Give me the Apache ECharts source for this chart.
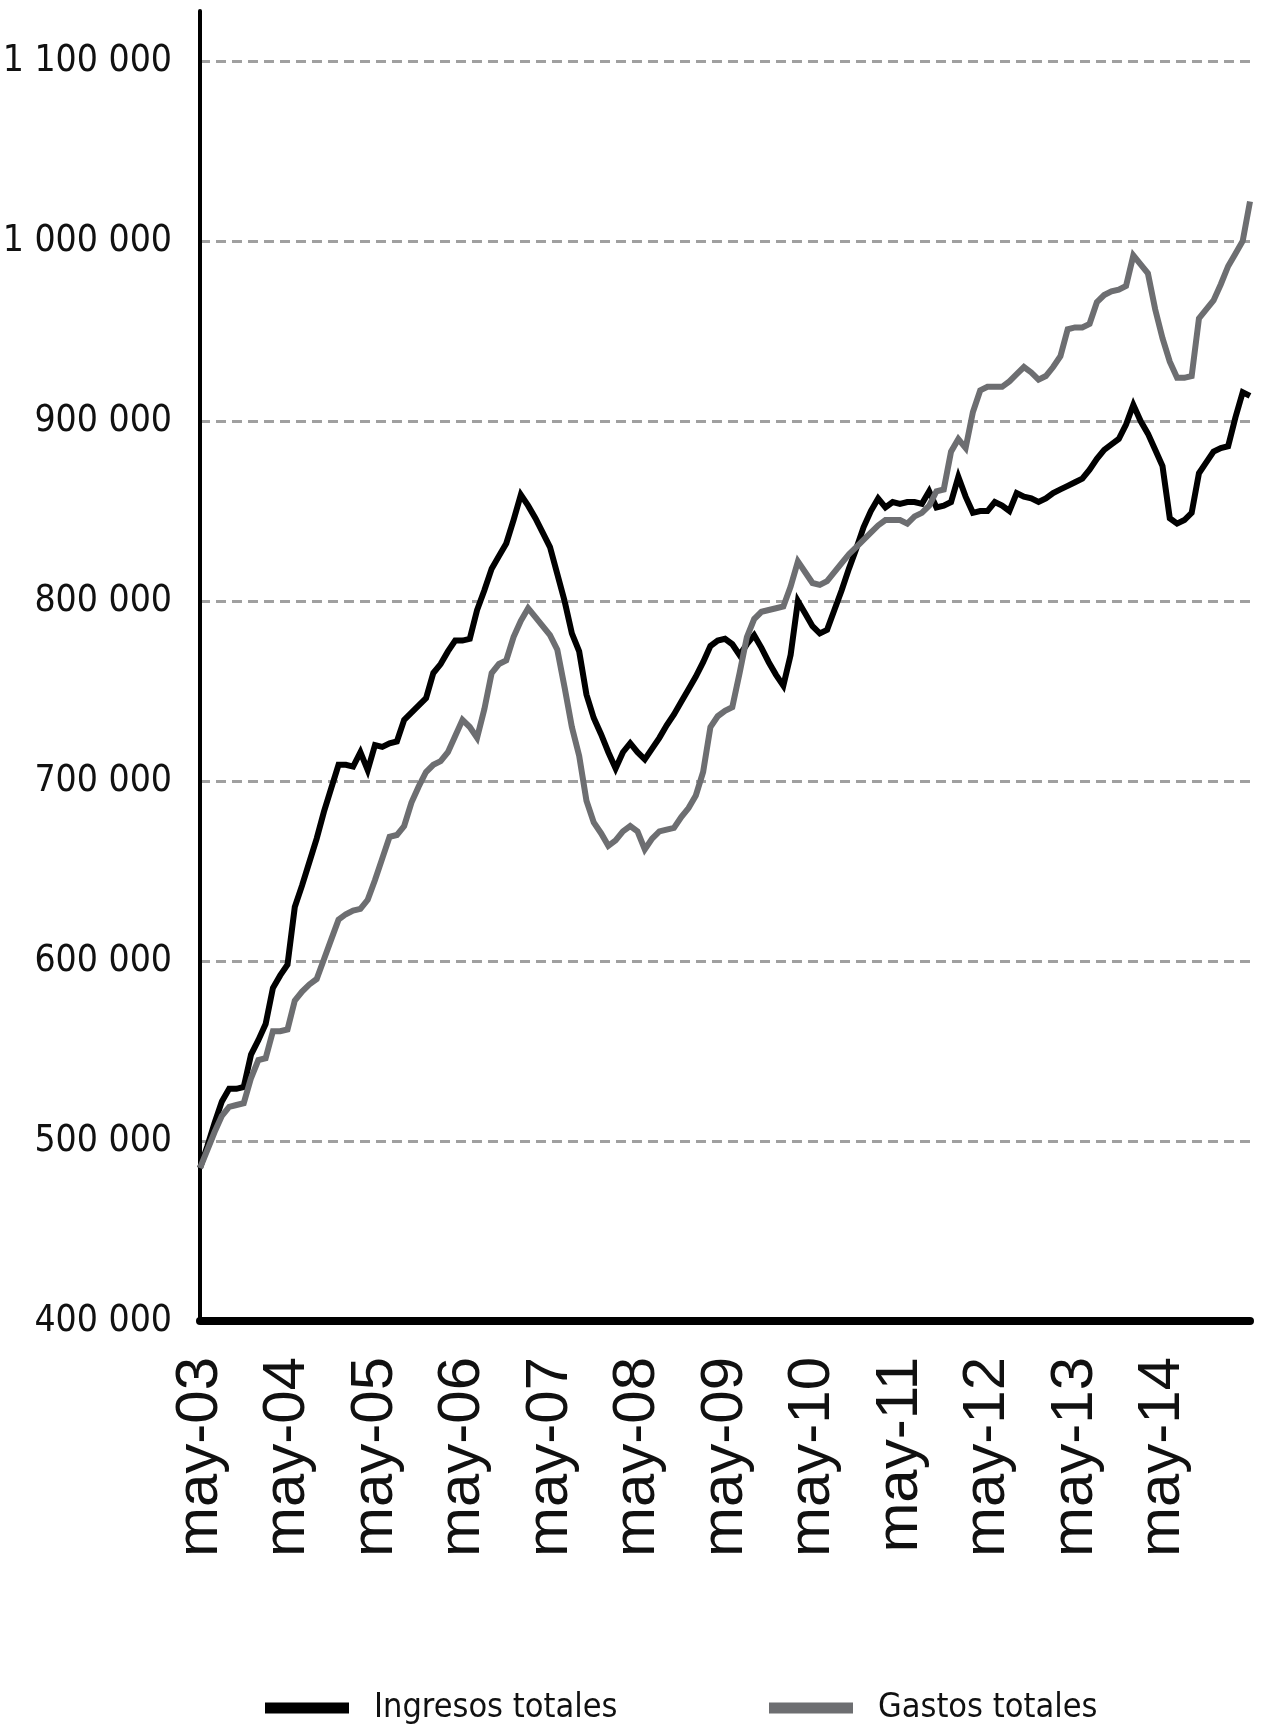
<!DOCTYPE html>
<html>
<head>
<meta charset="utf-8">
<script src="https://cdn.jsdelivr.net/npm/echarts@6/dist/echarts.min.js"></script>
<style>
  html, body { margin: 0; padding: 0; background: #fff; }
  #chart { width: 1264px; height: 1732px; }
</style>
</head>
<body>
<div id="chart"></div>
<script>
// meses del eje: may-03 ... may-15
var monthNames = ['ene', 'feb', 'mar', 'abr', 'may', 'jun', 'jul', 'ago', 'sep', 'oct', 'nov', 'dic']
var categories = []
for (var i = 0; i < 145; i++) {
  var m = (4 + i) % 12
  var y = 3 + Math.floor((4 + i) / 12)
  categories.push(monthNames[m] + '-' + (y < 10 ? '0' + y : '' + y))
}

var seriesNames = ['Ingresos totales', 'Gastos totales']

// valores en miles
var ingresos = [
  485, 497, 510, 522, 529, 529, 530, 548, 556, 565, 585, 592,
  598, 630, 642, 655, 668, 683, 696, 709, 709, 708, 716, 706,
  720, 719, 721, 722, 734, 738, 742, 746, 760, 765, 772, 778,
  778, 779, 795, 806, 818, 825, 832, 845, 859, 853, 846, 838,
  830, 815, 800, 782, 772, 748, 735, 726, 716, 707, 716, 721,
  716, 712, 718, 724, 731, 737, 744, 751, 758, 766, 775, 778,
  779, 776, 770, 776, 781, 774, 766, 759, 753, 770, 800, 793,
  786, 782, 784, 795, 806, 818, 829, 841, 850, 857, 852, 855,
  854, 855, 855, 854, 861, 852, 853, 855, 869, 858, 849, 850,
  850, 855, 853, 850, 860, 858, 857, 855, 857, 860, 862, 864,
  866, 868, 873, 879, 884, 887, 890, 898, 909, 900, 893, 884,
  875, 846, 843, 845, 849, 871, 877, 883, 885, 886, 902, 916,
  914
]

var gastos = [
  485, 495, 505, 514, 519, 520, 521, 535, 545, 546, 561, 561,
  562, 578, 583, 587, 590, 601, 612, 623, 626, 628, 629, 634,
  645, 657, 669, 670, 675, 688, 697, 705, 709, 711, 716, 725,
  734, 730, 724, 740, 760, 765, 767, 780, 789, 796, 791, 786,
  781, 773, 752, 730, 714, 689, 677, 671, 664, 667, 672, 675,
  672, 662, 668, 672, 673, 674, 680, 685, 692, 705, 730, 736,
  739, 741, 760, 780, 790, 794, 795, 796, 797, 808, 822, 816,
  810, 809, 811, 816, 821, 826, 830, 834, 838, 842, 845, 845,
  845, 843, 847, 849, 853, 861, 862, 883, 890, 885, 905, 917,
  919, 919, 919, 922, 926, 930, 927, 923, 925, 930, 936, 951,
  952, 952, 954, 966, 970, 972, 973, 975, 992, 987, 982, 962,
  946, 933, 924, 924, 925, 957, 962, 967, 976, 986, 993, 1000,
  1022
]

var yTicks = [400000, 500000, 600000, 700000, 800000, 900000, 1000000, 1100000]

var narrow = "'Liberation Sans Narrow', 'DejaVu Sans Condensed', sans-serif"

function fmtNum(v) {
  return String(Math.round(v)).replace(/\B(?=(\d{3})+(?!\d))/g, ' ')
}

var legendText = {
  fontFamily: narrow,
  fontSize: 34,
  color: '#111',
  padding: [0, 0, 0, 20]
}

var chart = echarts.init(document.getElementById('chart'))

chart.setOption({
  animation: false,
  backgroundColor: '#fff',
  color: ['#000000', '#6d6e71'],
  grid: {
    left: 200,
    right: 14,
    top: 11,
    bottom: 411,
    containLabel: false,
    outerBoundsMode: 'none'
  },
  legend: [{
    data: [seriesNames[0]],
    left: 260,
    top: 1686,
    icon: 'rect',
    itemWidth: 84,
    itemHeight: 11,
    textStyle: legendText
  }, {
    data: [seriesNames[1]],
    left: 764,
    top: 1686,
    icon: 'rect',
    itemWidth: 84,
    itemHeight: 11,
    textStyle: legendText
  }],
  xAxis: {
    type: 'category',
    data: categories,
    boundaryGap: false,
    axisLine: {
      lineStyle: { color: '#000', width: 8 }
    },
    axisTick: { show: false },
    axisLabel: {
      interval: function(index) {
        return index % 12 === 0 && index < categories.length - 1
      },
      rotate: 90,
      margin: 36,
      fontFamily: "'Liberation Sans', Arial, sans-serif",
      fontSize: 60,
      color: '#111'
    },
    splitLine: { show: false }
  },
  yAxis: {
    type: 'value',
    min: yTicks[0],
    max: 1127800,
    interval: 100000,
    axisLine: {
      show: true,
      lineStyle: { color: '#000', width: 4 }
    },
    axisTick: { show: false },
    axisLabel: {
      showMaxLabel: false,
      margin: 28,
      fontFamily: narrow,
      fontSize: 37,
      color: '#111',
      formatter: function(v) {
        return yTicks.indexOf(v) >= 0 ? fmtNum(v) : ''
      }
    },
    splitLine: {
      show: true,
      showMinLine: false,
      showMaxLine: false,
      lineStyle: {
        color: '#a0a0a0',
        width: 3,
        type: [10, 6]
      }
    }
  },
  series: [{
    name: seriesNames[0],
    type: 'line',
    data: ingresos.map(function(v) { return v * 1000 }),
    showSymbol: false,
    symbol: 'none',
    lineStyle: { color: '#000000', width: 6, join: 'miter' },
    itemStyle: { color: '#000000' }
  },
  {
    name: seriesNames[1],
    type: 'line',
    data: gastos.map(function(v) { return v * 1000 }),
    showSymbol: false,
    symbol: 'none',
    lineStyle: { color: '#6d6e71', width: 6, join: 'miter' },
    itemStyle: { color: '#6d6e71' }
  }]
})
</script>
</body>
</html>
